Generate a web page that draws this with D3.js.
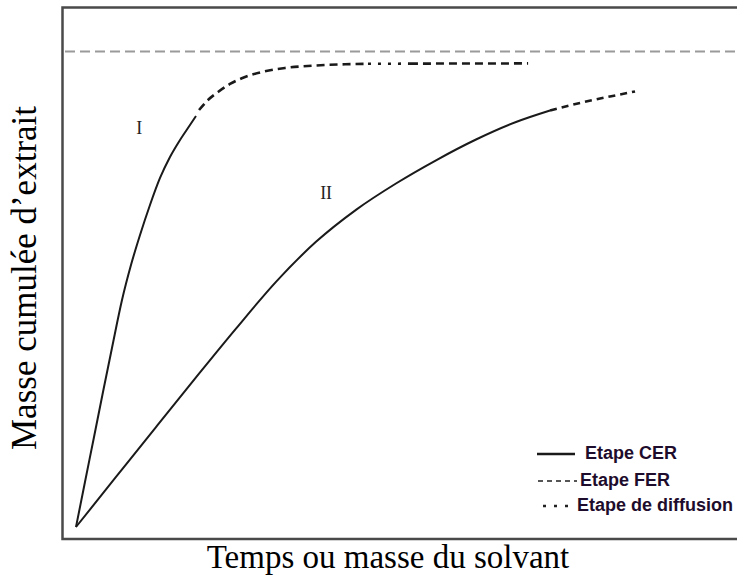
<!DOCTYPE html>
<html>
<head>
<meta charset="utf-8">
<script src="https://cdn.jsdelivr.net/npm/d3@7"></script>
<style>
  html, body { margin: 0; padding: 0; background: #fff; }
  svg { display: block; }
  .axis-title { font-family: "Liberation Serif", "Times New Roman", serif; font-size: 33px; fill: #000; }
  .axis-title.y { font-size: 35px; }
  .curve-label { font-family: "Liberation Serif", "Times New Roman", serif; font-size: 18px; fill: #222; }
  .legend-label { font-family: "Liberation Sans", Arial, sans-serif; font-size: 18px; font-weight: bold; fill: #1e0c2c; }
</style>
</head>
<body>
<svg id="chart" width="737" height="585"></svg>
<script>
// curve I (fast extraction): CER, then FER, then diffusion
var curveIcerX = [0, 1.36, 2.73, 4.09, 5.45, 6.97, 8.33, 9.70, 11.21, 12.73, 14.24, 15.76, 17.27, 18.18];
var curveIcerY = [0, 9.46, 18.93, 28.39, 37.64, 47.74, 55.10, 61.41, 67.72, 73.40, 77.81, 81.39, 84.54, 86.44];
var curveIferX = [18.64, 20.0, 21.52, 23.33, 25.61, 28.18, 31.67, 36.21, 40.76, 44.24];
var curveIferY = [87.70, 89.80, 91.48, 93.17, 94.64, 95.69, 96.53, 97.05, 97.31, 97.41];
var curveIdifX = [44.24, 50.6];
var curveIdifY = [97.41, 97.45];
var curveItailX = [50.6, 68.5];
var curveItailY = [97.45, 97.5];

// curve II (slow extraction)
var curveIIcerX = [0, 6.06, 12.12, 18.18, 24.24, 30.30, 36.36, 42.42, 48.48, 54.55, 60.61, 66.67, 71.82];
var curveIIcerY = [0, 10.52, 21.03, 31.46, 41.72, 51.56, 59.97, 66.70, 72.24, 77.12, 81.49, 85.17, 87.59];
var curveIIferX = [71.82, 76.36, 80.91, 84.70];
var curveIIferY = [87.59, 89.17, 90.54, 91.59];

// asymptote (total extractable mass)
var plateauY = 100;

var curveLabels = ['I', 'II'];
var curveLabelX = [9.6, 37.9];
var curveLabelY = [82.6, 69.0];

var legendLabels = ['Etape CER', 'Etape FER', 'Etape de diffusion'];
var xTitle = 'Temps ou masse du solvant';
var yTitle = 'Masse cumulée d\u2019extrait';

var svg = d3.select('#chart');

var x = d3.scaleLinear().domain([0, 100]).range([76, 736]);
var y = d3.scaleLinear().domain([0, 100]).range([527, 51.5]);

// frame (right side runs off the picture)
svg.append('path')
    .attr('d', 'M740,7.5 H62.5 V539 H740')
    .attr('fill', 'none')
    .attr('stroke', '#4a4a4a')
    .attr('stroke-width', 2.5);

// asymptote
svg.append('line')
    .attr('x1', 65).attr('x2', 737)
    .attr('y1', y(plateauY)).attr('y2', y(plateauY))
    .attr('stroke', '#9a9a9a')
    .attr('stroke-width', 2)
    .attr('stroke-dasharray', '10,5');

function pts(xs, ys) {
    return xs.map(function (d, i) { return [d, ys[i]]; });
}

var line = d3.line()
    .x(function (d) { return x(d[0]); })
    .y(function (d) { return y(d[1]); })
    .curve(d3.curveMonotoneX);

var segments = [
    { data: pts(curveIcerX, curveIcerY), dash: null },
    { data: pts(curveIferX, curveIferY), dash: '8,5' },
    { data: pts(curveIdifX, curveIdifY), dash: '3,7' },
    { data: pts(curveItailX, curveItailY), dash: '8,5' },
    { data: pts(curveIIcerX, curveIIcerY), dash: null },
    { data: pts(curveIIferX, curveIIferY), dash: '7,5' }
];

svg.selectAll('.seg')
    .data(segments)
    .enter()
    .append('path')
    .attr('class', 'seg')
    .attr('d', function (d) { return line(d.data); })
    .attr('fill', 'none')
    .attr('stroke', '#1a1a1a')
    .attr('stroke-width', function (d) { return d.dash ? 2.6 : 2; })
    .attr('stroke-dasharray', function (d) { return d.dash; });

svg.selectAll('.curve-label')
    .data(curveLabels)
    .enter()
    .append('text')
    .attr('class', 'curve-label')
    .attr('x', function (d, i) { return x(curveLabelX[i]); })
    .attr('y', function (d, i) { return y(curveLabelY[i]); })
    .attr('text-anchor', 'middle')
    .text(function (d) { return d; });

// legend
var legendStyles = [
    { dash: null, color: '#1a1a1a', width: 2.5, x1: 537, x2: 575, tx: 585 },
    { dash: '5,4', color: '#555', width: 2, x1: 538, x2: 577, tx: 580 },
    { dash: '3,8', color: '#222', width: 2.5, x1: 543, x2: 576, tx: 577 }
];
var legendTop = 459, legendStep = 27;

var items = svg.selectAll('.legend-item')
    .data(legendLabels)
    .enter()
    .append('g')
    .attr('class', 'legend-item')
    .attr('transform', function (d, i) { return 'translate(0,' + (legendTop + i * legendStep - (i === 2 ? 2 : 0)) + ')'; });

items.append('line')
    .attr('x1', function (d, i) { return legendStyles[i].x1; })
    .attr('x2', function (d, i) { return legendStyles[i].x2; })
    .attr('y1', -5).attr('y2', -5)
    .attr('stroke', function (d, i) { return legendStyles[i].color; })
    .attr('stroke-width', function (d, i) { return legendStyles[i].width; })
    .attr('stroke-dasharray', function (d, i) { return legendStyles[i].dash; });

items.append('text')
    .attr('class', 'legend-label')
    .attr('x', function (d, i) { return legendStyles[i].tx; })
    .attr('y', 0)
    .text(function (d) { return d; });

// axis titles
svg.append('text')
    .attr('class', 'axis-title')
    .attr('x', 388)
    .attr('y', 568)
    .attr('text-anchor', 'middle')
    .text(xTitle);

svg.append('text')
    .attr('class', 'axis-title y')
    .attr('transform', 'translate(36,278) rotate(-90)')
    .attr('text-anchor', 'middle')
    .text(yTitle);
</script>
</body>
</html>
